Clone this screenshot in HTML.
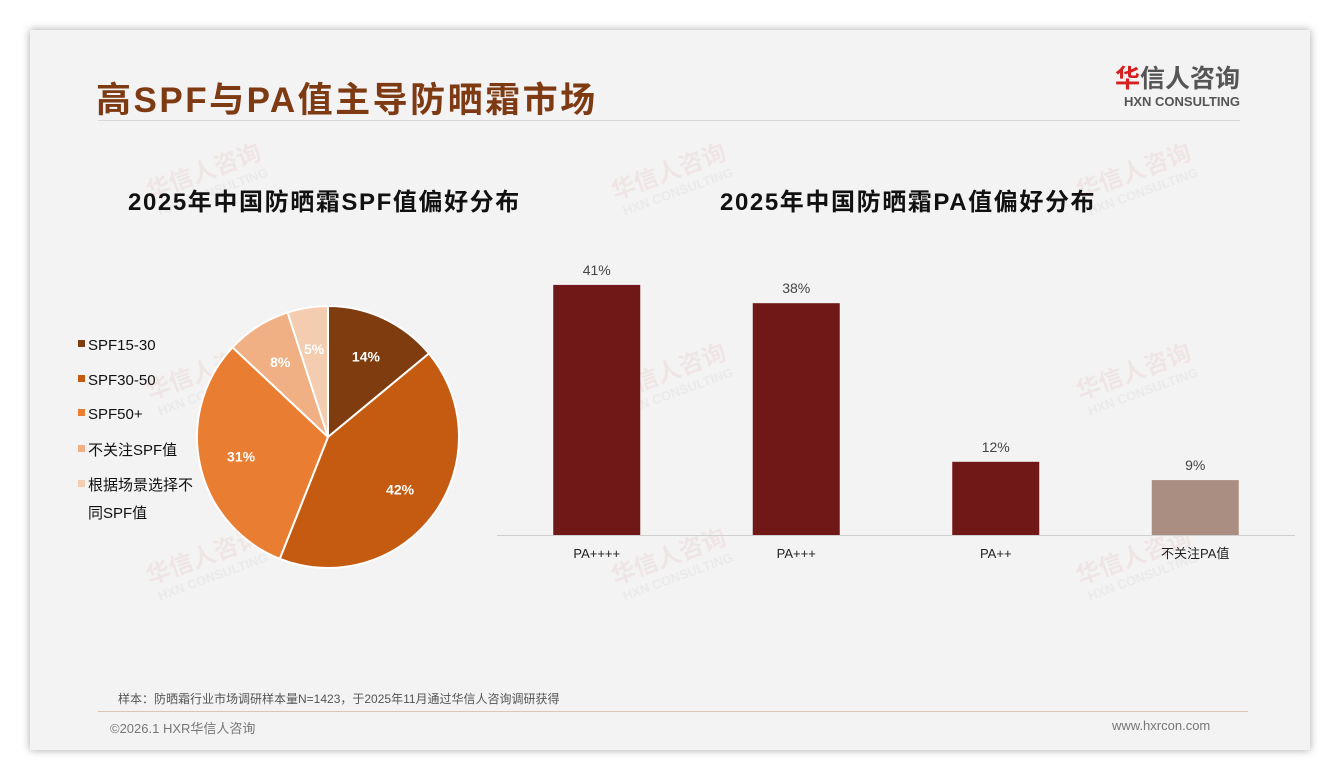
<!DOCTYPE html>
<html><head><meta charset="utf-8"><style>
body{margin:0;width:1340px;height:780px;background:#fff;position:relative;overflow:hidden;font-family:"Liberation Sans","Noto Sans CJK SC",sans-serif}
#card{position:absolute;left:30px;top:30px;width:1280px;height:720px;background:#f3f3f3;box-shadow:0 0 8px rgba(0,0,0,.35)}
.abs{position:absolute}
</style></head><body>
<div id="card"></div>
<div class="abs" style="left:96px;top:72px;font-size:35px;font-weight:bold;color:#7e3a12;letter-spacing:2.5px">高SPF与PA值主导防晒霜市场</div>
<div class="abs" style="left:98px;top:120px;width:1142px;height:1px;background:#d8d8d8"></div>
<div class="abs" style="left:1100px;top:64px;width:140px;text-align:right">
<div style="font-size:25px;font-weight:bold;color:#555;line-height:30px"><span style="color:#d42020">华</span>信人咨询</div>
<div style="font-size:13px;font-weight:bold;color:#555;line-height:16px">HXN CONSULTING</div></div>
<div class="abs" style="left:128px;top:182px;font-size:24px;font-weight:bold;color:#111;letter-spacing:1.6px">2025年中国防晒霜SPF值偏好分布</div>
<div class="abs" style="left:720px;top:182px;font-size:24px;font-weight:bold;color:#111;letter-spacing:1.6px">2025年中国防晒霜PA值偏好分布</div>
<svg class="abs" style="left:0;top:0" width="1340" height="780" id="svg"></svg>
<div class="abs" style="left:118px;top:690px;font-size:12px;color:#555">样本：防晒霜行业市场调研样本量N=1423，于2025年11月通过华信人咨询调研获得</div>
<div class="abs" style="left:98px;top:711px;width:1150px;height:1px;background:#d9c6b8"></div>
<div class="abs" style="left:110px;top:718px;font-size:13px;color:#777">©2026.1 HXR华信人咨询</div>
<div class="abs" style="left:1112px;top:718px;font-size:13px;color:#777">www.hxrcon.com</div>
<script>
const pieLabels=["SPF15-30","SPF30-50","SPF50+","不关注SPF值","根据场景选择不同SPF值"];
const pieValues=[14,42,31,8,5];
const pieColors=["#7f3c0f","#c55a11","#e97d32","#f0b083","#f4ccb0"];
const barCats=["PA++++","PA+++","PA++","不关注PA值"];
const barValues=[41,38,12,9];
const barColors=["#701717","#701717","#701717","#ab8e82"];
const NS="http://www.w3.org/2000/svg";
const svg=document.getElementById('svg');
function mk(t,a,p){const e=document.createElementNS(NS,t);for(const k in a)e.setAttribute(k,a[k]);(p||svg).appendChild(e);return e;}
[[150,200],[615,200],[1080,200],[150,400],[615,400],[1080,400],[150,585],[615,585],[1080,585]].forEach(p=>{
 const g=mk('g',{transform:`translate(${p[0]},${p[1]}) rotate(-20)`,opacity:0.05});
 
 const t=mk('text',{x:0,y:0,'font-size':24,'font-weight':'bold',fill:'#c00','font-family':'Liberation Sans, Noto Sans CJK SC, sans-serif'},g);t.textContent='华信人咨询';
 const t2=mk('text',{x:4,y:18,'font-size':13,'font-weight':'bold',fill:'#555','font-family':'Liberation Sans, sans-serif'},g);t2.textContent='HXN CONSULTING';
});
const cx=328,cy=437,r=131;const tot=pieValues.reduce((a,b)=>a+b,0);let ang=0;
pieValues.forEach((v,i)=>{
 const a0=ang,a1=ang+v/tot*2*Math.PI;ang=a1;
 const x0=cx+r*Math.sin(a0),y0=cy-r*Math.cos(a0),x1=cx+r*Math.sin(a1),y1=cy-r*Math.cos(a1);
 const p=mk('path',{d:`M${cx},${cy}L${x0},${y0}A${r},${r} 0 ${a1-a0>Math.PI?1:0} 1 ${x1},${y1}Z`,fill:pieColors[i],stroke:'#fff','stroke-width':2});
 
 const m=(a0+a1)/2,lr=r*0.68;
 const t=mk('text',{x:cx+lr*Math.sin(m),y:cy-lr*Math.cos(m)+5,'text-anchor':'middle','font-size':14,'font-weight':'bold',fill:'#fff','font-family':'Liberation Sans, sans-serif'});
 
 t.textContent=v+'%';
});
const legY=[345,380,414,450,485];
pieLabels.forEach((l,i)=>{
 const g=mk('g',{});
 mk('rect',{x:78,y:legY[i]-5,width:7,height:7,fill:pieColors[i]},g);
 const lines=l.length>9?[l.slice(0,7),l.slice(7)]:[l];
 lines.forEach((s,j)=>{const t=mk('text',{x:88,y:legY[i]+5+j*28,'font-size':15,fill:'#111','font-family':'Liberation Sans, Noto Sans CJK SC, sans-serif'},g);t.textContent=s;});
});
const base=535,pxPer=6.1,bw=87,x0=497,x1=1295,step=(x1-x0)/barCats.length;
const ax=mk('line',{x1:x0,x2:x1,y1:base+0.5,y2:base+0.5,stroke:'#d0d0d0'});
barCats.forEach((c,i)=>{
 const cxb=x0+step*(i+0.5),h=barValues[i]*pxPer;
 const b=mk('rect',{x:cxb-bw/2,y:base-h,width:bw,height:h,fill:barColors[i]});
 
 const v=mk('text',{x:cxb,y:base-h-10,'text-anchor':'middle','font-size':14,fill:'#444','font-family':'Liberation Sans, sans-serif'});
 v.textContent=barValues[i]+'%';
 const t=mk('text',{x:cxb,y:base+23,'text-anchor':'middle','font-size':13,fill:'#222','font-family':'Liberation Sans, Noto Sans CJK SC, sans-serif'});
 t.textContent=c;
});
</script>
</body></html>
